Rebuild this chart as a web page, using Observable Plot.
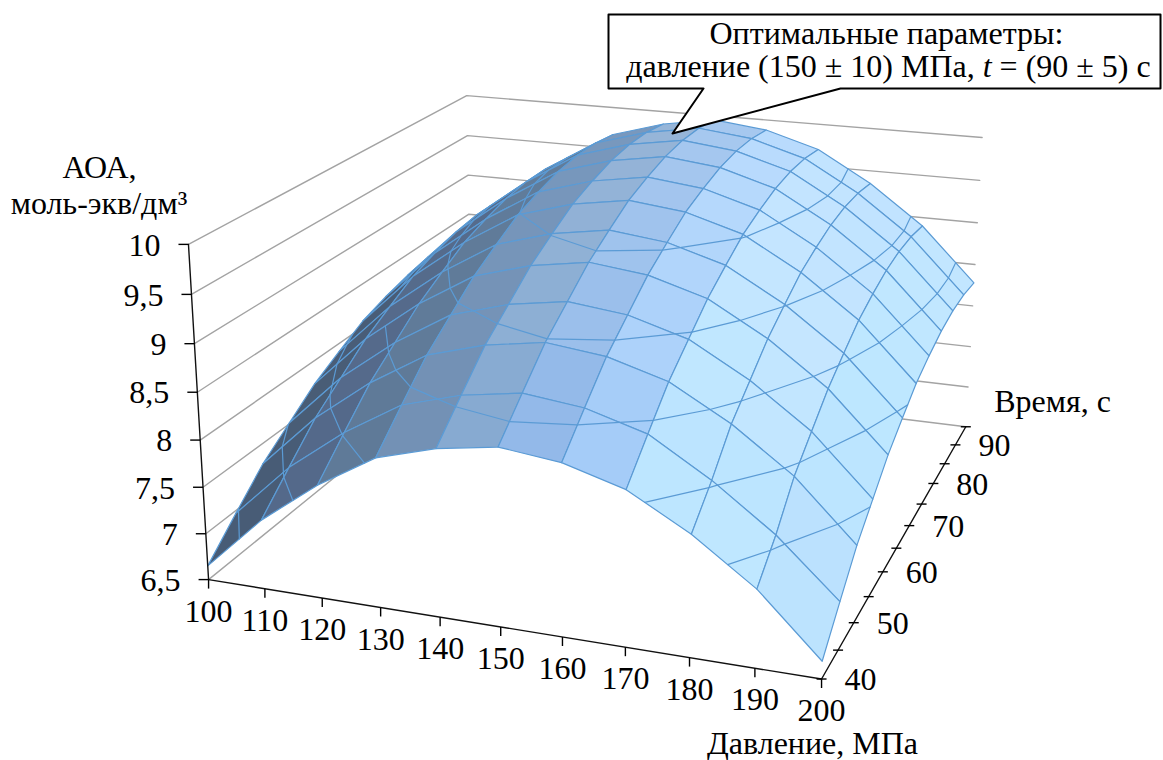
<!DOCTYPE html>
<html><head><meta charset="utf-8">
<script src="https://cdn.jsdelivr.net/npm/d3@7"></script>
<script src="https://cdn.jsdelivr.net/npm/@observablehq/plot@0.6"></script>
<style>html,body{margin:0;padding:0;background:#fff}svg{display:block}</style>
</head><body><div id="chart"></div><script>
const pressures=[100,110,120,130,140,150,160,170,180,190,200];
const times=[40,45,50,55,60,65,70,75,80,85,90,95];
const timeTicks=[40,50,60,70,80,90];
const levels=[6.5,7,7.5,8,8.5,9,9.5,10];
const levelLabels=["6,5","7","7,5","8","8,5","9","9,5","10"];
// AOA by pressure (rows) and time (columns)
const aoa=[
[6.65,6.97,7.28,7.51,7.74,7.91,8.07,8.17,8.25,8.29,8.29,8.25],
[7.24,7.56,7.87,8.10,8.33,8.50,8.66,8.76,8.84,8.88,8.88,8.84],
[7.70,8.02,8.33,8.56,8.79,8.96,9.12,9.22,9.30,9.34,9.34,9.30],
[8.07,8.39,8.70,8.93,9.16,9.33,9.49,9.59,9.67,9.71,9.71,9.67],
[8.25,8.57,8.88,9.11,9.34,9.51,9.67,9.77,9.85,9.89,9.89,9.85],
[8.35,8.67,8.98,9.21,9.44,9.61,9.77,9.87,9.95,9.99,9.99,9.95],
[8.28,8.60,8.91,9.14,9.37,9.54,9.70,9.80,9.88,9.92,9.92,9.88],
[8.10,8.42,8.73,8.96,9.19,9.36,9.52,9.62,9.70,9.74,9.74,9.70],
[7.75,8.04,8.38,8.61,8.84,9.01,9.17,9.27,9.35,9.39,9.39,9.35],
[7.30,7.58,7.93,8.16,8.39,8.56,8.72,8.82,8.90,8.94,8.94,8.90],
[6.68,7.00,7.31,7.54,7.77,7.94,8.10,8.20,8.28,8.32,8.32,8.28]];

// perspective camera of the 3-D box
const M=[539.58877,388.82726,-29.41257,208.07379,38.77893,-116.00747,-347.28334,579.08610,-0.08938,0.26672,-0.04954];
const proj=(p,t,z)=>{const u=(p-100)/100,v=(t-40)/55,w=(z-6.5)/3.5;const d=M[8]*u+M[9]*v+M[10]*w+1;
  return {x:(M[0]*u+M[1]*v+M[2]*w+M[3])/d,y:(M[4]*u+M[5]*v+M[6]*w+M[7])/d,d};};

// surface: flat-shaded cells, painted back to front, each with its contour pieces
const light=[.55,.05,.83];
const ramp=d3.scaleLinear()
 .domain([.22,.336,.424,.63,.70,.735,.853,.885,.917,.949,.97,.985,1])
 .range(["#485c75","#54698a","#5f7a98","#7492b6","#84a8d0","#96b5d8","#93b9e9","#a6c8ef","#a5ccf8","#b9dbfd","#bde7ff","#c5e6ff","#bfe2ff"]).clamp(true);
const cells=[];
for(let i=0;i<pressures.length-1;i++)for(let j=0;j<times.length-1;j++){
  const c=[[i,j],[i+1,j],[i+1,j+1],[i,j+1]].map(([a,b])=>({p:pressures[a],t:times[b],z:aoa[a][b]}));
  const su=((c[1].z+c[2].z)-(c[0].z+c[3].z))/2, sv=((c[2].z+c[3].z)-(c[0].z+c[1].z))/2;
  const nx=-su*96/61, ny=-sv*96/55*.4, nz=1, nn=Math.hypot(nx,ny,nz);
  const I=(nx*light[0]+ny*light[1]+nz*light[2])/nn;
  const ctr=proj((c[0].p+c[1].p)/2,(c[0].t+c[3].t)/2,6.5).d;
  cells.push({c,color:ramp(I),depth:ctr,key:`${i}-${j}`});
}
cells.sort((a,b)=>b.depth-a.depth);
const surface=[];
const gridBlue="#5b9bd5";
for(const cell of cells){
  [...cell.c,cell.c[0]].forEach(q=>{const s=proj(q.p,q.t,q.z);surface.push({x:s.x,y:s.y,k:"c"+cell.key,f:cell.color});});
  for(const lev of levels){
    const pts=[];
    for(let e=0;e<4;e++){const a=cell.c[e],b=cell.c[(e+1)%4];
      if((a.z-lev)*(b.z-lev)<0){const f=(lev-a.z)/(b.z-a.z);pts.push(proj(a.p+f*(b.p-a.p),a.t+f*(b.t-a.t),lev));}}
    for(let s=0;s+1<pts.length;s+=2){
      surface.push({x:pts[s].x,y:pts[s].y,k:`l${cell.key}-${lev}-${s}`,f:"none"});
      surface.push({x:pts[s+1].x,y:pts[s+1].y,k:`l${cell.key}-${lev}-${s}`,f:"none"});
    }
  }
}
// walls
const walls=[];
levels.forEach(z=>{[[100,40],[100,95],[200,95]].forEach(([p,t])=>walls.push({...proj(p,t,z),k:z}));});
// axes
const axes=[];
const seg=(k,a,b)=>{axes.push({...a,k},{...b,k});};
seg("z",proj(100,40,10),proj(100,40,6.5));
seg("p",proj(100,40,6.5),proj(200,40,6.5));
seg("t",proj(200,40,6.5),proj(200,95,6.5));
const ticks=[];
levels.forEach(z=>{const a=proj(100,40,z);ticks.push({x1:a.x-10,x2:a.x,y1:a.y,y2:a.y});});
pressures.forEach(p=>{const a=proj(p,40,6.5);ticks.push({x1:a.x,x2:a.x,y1:a.y,y2:a.y+9});});
times.forEach(t=>{const a=proj(200,t,6.5);ticks.push({x1:a.x-5,x2:a.x+5,y1:a.y,y2:a.y});});

const callout=[[608,14],[1160,14],[1160,88],[840,88],[672,133],[703,88],[608,88],[608,14]].map(([x,y])=>({x,y}));
const serif="Liberation Serif";
const T=(data,o)=>Plot.text(data,{fontFamily:serif,fontSize:32,fill:"#000",...o});
const chart=Plot.plot({width:1163,height:760,margin:0,
 x:{domain:[0,1163],range:[0,1163],axis:null},y:{domain:[0,760],range:[0,760],axis:null},
 style:{background:"#fff"},
 marks:[
  Plot.line(walls,{x:"x",y:"y",z:"k",stroke:"#a3a3a3",strokeWidth:1.4}),
  Plot.line(surface,{x:"x",y:"y",z:"k",fill:{value:"f",scale:null},stroke:gridBlue,strokeWidth:1.2,strokeLinejoin:"round"}),
  Plot.line(axes,{x:"x",y:"y",z:"k",stroke:"#111",strokeWidth:1.4}),
  Plot.link(ticks,{x1:"x1",x2:"x2",y1:"y1",y2:"y2",stroke:"#000",strokeWidth:1.4}),
  T(levels,{x:z=>proj(100,40,z).x,y:z=>proj(100,40,z).y,text:(d,i)=>levelLabels[i],textAnchor:"end",dx:-28,dy:1}),
  T(pressures,{x:p=>proj(p,40,6.5).x,y:p=>proj(p,40,6.5).y,text:String,dy:32}),
  T(timeTicks,{x:t=>proj(200,t,6.5).x,y:t=>proj(200,t,6.5).y,text:String,textAnchor:"start",dx:23,dy:1}),
  Plot.line(callout,{x:"x",y:"y",fill:"#fff",stroke:"#000",strokeWidth:2}),
  T(["Оптимальные параметры:"],{x:()=>886,y:()=>33,text:d=>d}),
  T(["давление (150 ± 10) МПа, t = (90 ± 5) с"],{x:()=>888,y:()=>66,text:d=>d}),
  T(["АОА,"],{x:()=>99,y:()=>167,text:d=>d}),
  T(["моль-экв/дм³"],{x:()=>98.5,y:()=>203,text:d=>d}),
  T(["Давление, МПа"],{x:()=>812,y:()=>743,text:d=>d}),
  T(["Время, с"],{x:()=>1052,y:()=>401,text:d=>d})
 ]});
chart.querySelectorAll("text").forEach(t=>{
  if(t.textContent.startsWith("давление")){
    const s=t.textContent,i=s.indexOf(" t ")+1;
    t.textContent=s.slice(0,i);
    const e=document.createElementNS("http://www.w3.org/2000/svg","tspan");e.setAttribute("font-style","italic");e.textContent="t";t.appendChild(e);
    t.appendChild(document.createTextNode(s.slice(i+1)));
  }
});
document.getElementById("chart").appendChild(chart);
</script></body></html>
